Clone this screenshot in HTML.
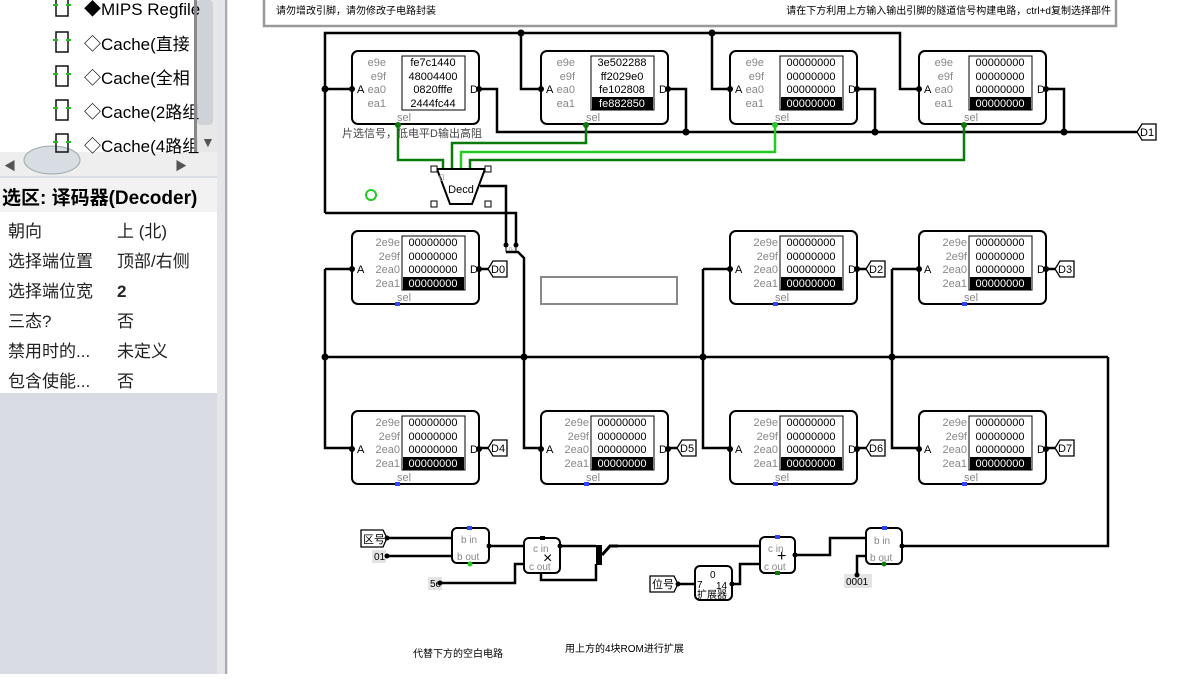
<!DOCTYPE html>
<html><head><meta charset="utf-8"><style>
body{margin:0;width:1204px;height:674px;overflow:hidden;background:#fff;font-family:"Liberation Sans","Noto Sans CJK SC",sans-serif}
svg text{font-family:"Liberation Sans","Noto Sans CJK SC",sans-serif}
</style></head><body>
<svg width="1204" height="674" viewBox="0 0 1204 674" xmlns="http://www.w3.org/2000/svg">
<rect x="0" y="0" width="228" height="674" fill="#d9dde3"/>
<rect x="0" y="0" width="195" height="152" fill="#fff"/>
<rect x="195" y="0" width="22" height="152" fill="#e8e8e8"/>
<rect x="197" y="0" width="16" height="125" fill="#cfd3d8" rx="4"/>
<text x="201" y="147" font-size="14" fill="#555">▼</text>
<rect x="0" y="152" width="217" height="24" fill="#eeeeee"/>
<ellipse cx="52" cy="160" rx="28" ry="14" fill="#d8dde3" stroke="#9aa" />
<text x="4" y="170" font-size="12" fill="#555">◀</text>
<text x="175" y="170" font-size="12" fill="#555">▶</text>
<rect x="217" y="0" width="11" height="674" fill="#e4e6ea"/>
<line x1="226" y1="0" x2="226" y2="674" stroke="#a8acb2" stroke-width="2"/>
<g font-size="17" fill="#000">
<text x="84" y="15">◆MIPS Regfile</text>
<text x="84" y="50">◇Cache(直接</text>
<text x="84" y="84">◇Cache(全相</text>
<text x="84" y="118">◇Cache(2路组</text>
<text x="84" y="152">◇Cache(4路组</text>
</g>
<g fill="none" stroke="#111" stroke-width="1.5">
<rect x="56" y="-4" width="12" height="20"/><rect x="56" y="32" width="12" height="20"/><rect x="56" y="66" width="12" height="20"/><rect x="56" y="100" width="12" height="20"/><rect x="56" y="134" width="12" height="18"/>
</g>
<g stroke="#22bb22" stroke-width="2">
<line x1="53" y1="5" x2="58" y2="5"/><line x1="66" y1="5" x2="71" y2="5"/>
<line x1="53" y1="40" x2="58" y2="40"/><line x1="66" y1="40" x2="71" y2="40"/>
<line x1="53" y1="74" x2="58" y2="74"/><line x1="66" y1="74" x2="71" y2="74"/>
<line x1="53" y1="108" x2="58" y2="108"/><line x1="66" y1="108" x2="71" y2="108"/>
<line x1="53" y1="142" x2="58" y2="142"/><line x1="66" y1="142" x2="71" y2="142"/>
</g>
<rect x="194" y="0" width="3" height="152" fill="#888"/>
<rect x="0" y="178" width="217" height="34" fill="#f2f2f2"/>
<text x="2" y="204" font-size="19" font-weight="bold">选区: 译码器(Decoder)</text>
<rect x="0" y="212" width="217" height="181" fill="#fff"/>
<g font-size="17" fill="#222">
<text x="8" y="237">朝向</text><text x="117" y="237">上 (北)</text>
<text x="8" y="267">选择端位置</text><text x="117" y="267">顶部/右侧</text>
<text x="8" y="297">选择端位宽</text><text x="117" y="297" font-weight="bold">2</text>
<text x="8" y="327">三态?</text><text x="117" y="327">否</text>
<text x="8" y="357">禁用时的...</text><text x="117" y="357">未定义</text>
<text x="8" y="387">包含使能...</text><text x="117" y="387">否</text>
</g>
<rect x="264" y="-2" width="852" height="28" fill="#fff" stroke="#999" stroke-width="2.5"/>
<text x="276" y="14" font-size="10">请勿增改引脚，请勿修改子电路封装</text>
<text x="1111" y="14" font-size="10" text-anchor="end">请在下方利用上方输入输出引脚的隧道信号构建电路，ctrl+d复制选择部件</text>

<g fill="none" stroke="#000" stroke-width="2.5">
<polyline points="325,213 325,33 900,33 900,89 919,89"/>
<line x1="325" y1="89" x2="352" y2="89"/>
<polyline points="521,33 521,89 541,89"/>
<polyline points="712,33 712,89 730,89"/>
<polyline points="479,89 497,89 497,132 1137,132"/>
<polyline points="668,89 686,89 686,132"/>
<polyline points="857,89 875,89 875,132"/>
<polyline points="1046,89 1064,89 1064,132"/>
<polyline points="325,213 516,213 516,245"/>
<polyline points="480,186 506,186 506,245"/>
<polyline points="506,252 518,252 524,258 524,448 541,448"/>
<polyline points="1108,357 325,357"/>
<polyline points="325,269 325,448 352,448"/>
<line x1="325" y1="269" x2="352" y2="269"/>
<polyline points="703,269 703,448 730,448"/>
<line x1="703" y1="269" x2="730" y2="269"/>
<polyline points="892,269 892,448 919,448"/>
<line x1="892" y1="269" x2="919" y2="269"/>
<line x1="479" y1="269" x2="488" y2="269"/><line x1="857" y1="269" x2="866" y2="269"/><line x1="1046" y1="269" x2="1055" y2="269"/>
<line x1="479" y1="448" x2="488" y2="448"/><line x1="668" y1="448" x2="677" y2="448"/><line x1="857" y1="448" x2="866" y2="448"/><line x1="1046" y1="448" x2="1055" y2="448"/>
<polyline points="1108,357 1108,546 902,546"/>
<polyline points="387,538 452,538"/><polyline points="387,556 452,556"/>
<polyline points="489,546 524,546"/>
<polyline points="440,583 515,583 515,564 524,564"/>
<polyline points="560,546 596,546"/><polyline points="541,573 541,580 596,580 596,564"/>
<polyline points="614,546 760,546"/>
<polyline points="678,584 695,584"/><polyline points="732,584 740,584 740,564 760,564"/>
<polyline points="795,555 830,555 830,538 866,538"/>
<polyline points="857,575 857,556 866,556"/>
</g>
<g stroke="#000" stroke-width="1"><line x1="506" y1="245" x2="506" y2="252"/><line x1="516" y1="245" x2="516" y2="252"/></g>
<g fill="#000"><circle cx="506" cy="245" r="2.5"/><circle cx="516" cy="245" r="2.5"/></g>
<text x="509" y="251" font-size="5" fill="#888">0-1</text>
<rect x="596" y="545" width="6" height="20" fill="#000"/>
<polyline points="602,555 610,546 618,546" stroke="#000" stroke-width="3" fill="none"/>
<g fill="#000">
<circle cx="521" cy="33" r="3.5"/><circle cx="712" cy="33" r="3.5"/><circle cx="325" cy="89" r="3.5"/>
<circle cx="686" cy="132" r="3.5"/><circle cx="875" cy="132" r="3.5"/><circle cx="1064" cy="132" r="3.5"/>
<circle cx="325" cy="357" r="3.5"/><circle cx="524" cy="357" r="3.5"/><circle cx="703" cy="357" r="3.5"/><circle cx="892" cy="357" r="3.5"/>
</g>
<g fill="none" stroke-width="2.5">
<polyline points="398,124 398,160 443,160 443,169" stroke="#0a7a0a"/>
<polyline points="452,169 452,143 586,143 586,124" stroke="#0a7a0a"/>
<polyline points="461,169 461,152 775,152 775,124" stroke="#22cc22"/>
<polyline points="470,169 470,160 964,160 964,124" stroke="#0a7a0a"/>
</g>
<circle cx="371" cy="195" r="5" fill="none" stroke="#22cc22" stroke-width="2"/>
<polygon points="437,169 485,169 472,204 450,204" fill="#fff" stroke="#000" stroke-width="2"/>
<g fill="#fff" stroke="#000"><rect x="431" y="166" width="6" height="6"/><rect x="485" y="166" width="6" height="6"/><rect x="431" y="201" width="6" height="6"/><rect x="485" y="201" width="6" height="6"/></g>
<text x="439" y="181" font-size="10" fill="#aaa">0</text>
<text x="461" y="193" font-size="11" text-anchor="middle">Decd</text>
<text x="342" y="137" font-size="11" fill="#444">片选信号，低电平D输出高阻</text>
<rect x="541" y="277" width="136" height="27" fill="none" stroke="#888" stroke-width="2"/>

<g font-size="11">
<g transform="translate(352,51)">
<rect width="127" height="73" rx="6" fill="#fff" stroke="#000" stroke-width="2"/>
<rect x="50" y="5" width="63" height="54" fill="#fff" stroke="#000"/>
<g fill="#888" text-anchor="end"><text x="34" y="15">e9e</text><text x="34" y="29">e9f</text><text x="34" y="42">ea0</text><text x="34" y="56">ea1</text><text x="52" y="70" text-anchor="middle">sel</text></g>
<g text-anchor="middle"><text x="81" y="15">fe7c1440</text><text x="81" y="29">48004400</text><text x="81" y="42">0820fffe</text><text x="81" y="56">2444fc44</text></g>
<text x="5" y="42">A</text><text x="118" y="42">D</text>
<circle cx="0" cy="38" r="3"/><circle cx="127" cy="38" r="3"/><circle cx="46" cy="74" r="3" fill="#0a7a0a"/>
</g>
<g transform="translate(541,51)">
<rect width="127" height="73" rx="6" fill="#fff" stroke="#000" stroke-width="2"/>
<rect x="50" y="5" width="63" height="54" fill="#fff" stroke="#000"/>
<g fill="#888" text-anchor="end"><text x="34" y="15">e9e</text><text x="34" y="29">e9f</text><text x="34" y="42">ea0</text><text x="34" y="56">ea1</text><text x="52" y="70" text-anchor="middle">sel</text></g>
<rect x="51" y="46" width="61" height="13" fill="#000"/>
<g text-anchor="middle"><text x="81" y="15">3e502288</text><text x="81" y="29">ff2029e0</text><text x="81" y="42">fe102808</text><text x="81" y="56" fill="#fff">fe882850</text></g>
<text x="5" y="42">A</text><text x="118" y="42">D</text>
<circle cx="0" cy="38" r="3"/><circle cx="127" cy="38" r="3"/><circle cx="45" cy="74" r="3" fill="#0a7a0a"/>
</g>
<g transform="translate(730,51)">
<rect width="127" height="73" rx="6" fill="#fff" stroke="#000" stroke-width="2"/>
<rect x="50" y="5" width="63" height="54" fill="#fff" stroke="#000"/>
<g fill="#888" text-anchor="end"><text x="34" y="15">e9e</text><text x="34" y="29">e9f</text><text x="34" y="42">ea0</text><text x="34" y="56">ea1</text><text x="52" y="70" text-anchor="middle">sel</text></g>
<rect x="51" y="46" width="61" height="13" fill="#000"/>
<g text-anchor="middle"><text x="81" y="15">00000000</text><text x="81" y="29">00000000</text><text x="81" y="42">00000000</text><text x="81" y="56" fill="#fff">00000000</text></g>
<text x="5" y="42">A</text><text x="118" y="42">D</text>
<circle cx="0" cy="38" r="3"/><circle cx="127" cy="38" r="3"/><circle cx="45" cy="74" r="3" fill="#22cc22"/>
</g>
<g transform="translate(919,51)">
<rect width="127" height="73" rx="6" fill="#fff" stroke="#000" stroke-width="2"/>
<rect x="50" y="5" width="63" height="54" fill="#fff" stroke="#000"/>
<g fill="#888" text-anchor="end"><text x="34" y="15">e9e</text><text x="34" y="29">e9f</text><text x="34" y="42">ea0</text><text x="34" y="56">ea1</text><text x="52" y="70" text-anchor="middle">sel</text></g>
<rect x="51" y="46" width="61" height="13" fill="#000"/>
<g text-anchor="middle"><text x="81" y="15">00000000</text><text x="81" y="29">00000000</text><text x="81" y="42">00000000</text><text x="81" y="56" fill="#fff">00000000</text></g>
<text x="5" y="42">A</text><text x="118" y="42">D</text>
<circle cx="0" cy="38" r="3"/><circle cx="127" cy="38" r="3"/><circle cx="45" cy="74" r="3" fill="#0a7a0a"/>
</g>
<g transform="translate(352,231)">
<rect width="127" height="73" rx="6" fill="#fff" stroke="#000" stroke-width="2"/>
<rect x="50" y="5" width="63" height="54" fill="#fff" stroke="#000"/>
<g fill="#888" text-anchor="end"><text x="48" y="15">2e9e</text><text x="48" y="29">2e9f</text><text x="48" y="42">2ea0</text><text x="48" y="56">2ea1</text><text x="52" y="70" text-anchor="middle">sel</text></g>
<rect x="51" y="46" width="61" height="13" fill="#000"/>
<g text-anchor="middle"><text x="81" y="15">00000000</text><text x="81" y="29">00000000</text><text x="81" y="42">00000000</text><text x="81" y="56" fill="#fff">00000000</text></g>
<text x="5" y="42">A</text><text x="118" y="42">D</text>
<circle cx="0" cy="38" r="3"/><circle cx="127" cy="38" r="3"/><rect x="43" y="71" width="5" height="4" fill="#3344ff"/>
</g>
<g transform="translate(730,231)">
<rect width="127" height="73" rx="6" fill="#fff" stroke="#000" stroke-width="2"/>
<rect x="50" y="5" width="63" height="54" fill="#fff" stroke="#000"/>
<g fill="#888" text-anchor="end"><text x="48" y="15">2e9e</text><text x="48" y="29">2e9f</text><text x="48" y="42">2ea0</text><text x="48" y="56">2ea1</text><text x="52" y="70" text-anchor="middle">sel</text></g>
<rect x="51" y="46" width="61" height="13" fill="#000"/>
<g text-anchor="middle"><text x="81" y="15">00000000</text><text x="81" y="29">00000000</text><text x="81" y="42">00000000</text><text x="81" y="56" fill="#fff">00000000</text></g>
<text x="5" y="42">A</text><text x="118" y="42">D</text>
<circle cx="0" cy="38" r="3"/><circle cx="127" cy="38" r="3"/><rect x="43" y="71" width="5" height="4" fill="#3344ff"/>
</g>
<g transform="translate(919,231)">
<rect width="127" height="73" rx="6" fill="#fff" stroke="#000" stroke-width="2"/>
<rect x="50" y="5" width="63" height="54" fill="#fff" stroke="#000"/>
<g fill="#888" text-anchor="end"><text x="48" y="15">2e9e</text><text x="48" y="29">2e9f</text><text x="48" y="42">2ea0</text><text x="48" y="56">2ea1</text><text x="52" y="70" text-anchor="middle">sel</text></g>
<rect x="51" y="46" width="61" height="13" fill="#000"/>
<g text-anchor="middle"><text x="81" y="15">00000000</text><text x="81" y="29">00000000</text><text x="81" y="42">00000000</text><text x="81" y="56" fill="#fff">00000000</text></g>
<text x="5" y="42">A</text><text x="118" y="42">D</text>
<circle cx="0" cy="38" r="3"/><circle cx="127" cy="38" r="3"/><rect x="43" y="71" width="5" height="4" fill="#3344ff"/>
</g>
<g transform="translate(352,411)">
<rect width="127" height="73" rx="6" fill="#fff" stroke="#000" stroke-width="2"/>
<rect x="50" y="5" width="63" height="54" fill="#fff" stroke="#000"/>
<g fill="#888" text-anchor="end"><text x="48" y="15">2e9e</text><text x="48" y="29">2e9f</text><text x="48" y="42">2ea0</text><text x="48" y="56">2ea1</text><text x="52" y="70" text-anchor="middle">sel</text></g>
<rect x="51" y="46" width="61" height="13" fill="#000"/>
<g text-anchor="middle"><text x="81" y="15">00000000</text><text x="81" y="29">00000000</text><text x="81" y="42">00000000</text><text x="81" y="56" fill="#fff">00000000</text></g>
<text x="5" y="42">A</text><text x="118" y="42">D</text>
<circle cx="0" cy="38" r="3"/><circle cx="127" cy="38" r="3"/><rect x="43" y="71" width="5" height="4" fill="#3344ff"/>
</g>
<g transform="translate(541,411)">
<rect width="127" height="73" rx="6" fill="#fff" stroke="#000" stroke-width="2"/>
<rect x="50" y="5" width="63" height="54" fill="#fff" stroke="#000"/>
<g fill="#888" text-anchor="end"><text x="48" y="15">2e9e</text><text x="48" y="29">2e9f</text><text x="48" y="42">2ea0</text><text x="48" y="56">2ea1</text><text x="52" y="70" text-anchor="middle">sel</text></g>
<rect x="51" y="46" width="61" height="13" fill="#000"/>
<g text-anchor="middle"><text x="81" y="15">00000000</text><text x="81" y="29">00000000</text><text x="81" y="42">00000000</text><text x="81" y="56" fill="#fff">00000000</text></g>
<text x="5" y="42">A</text><text x="118" y="42">D</text>
<circle cx="0" cy="38" r="3"/><circle cx="127" cy="38" r="3"/><rect x="43" y="71" width="5" height="4" fill="#3344ff"/>
</g>
<g transform="translate(730,411)">
<rect width="127" height="73" rx="6" fill="#fff" stroke="#000" stroke-width="2"/>
<rect x="50" y="5" width="63" height="54" fill="#fff" stroke="#000"/>
<g fill="#888" text-anchor="end"><text x="48" y="15">2e9e</text><text x="48" y="29">2e9f</text><text x="48" y="42">2ea0</text><text x="48" y="56">2ea1</text><text x="52" y="70" text-anchor="middle">sel</text></g>
<rect x="51" y="46" width="61" height="13" fill="#000"/>
<g text-anchor="middle"><text x="81" y="15">00000000</text><text x="81" y="29">00000000</text><text x="81" y="42">00000000</text><text x="81" y="56" fill="#fff">00000000</text></g>
<text x="5" y="42">A</text><text x="118" y="42">D</text>
<circle cx="0" cy="38" r="3"/><circle cx="127" cy="38" r="3"/><rect x="43" y="71" width="5" height="4" fill="#3344ff"/>
</g>
<g transform="translate(919,411)">
<rect width="127" height="73" rx="6" fill="#fff" stroke="#000" stroke-width="2"/>
<rect x="50" y="5" width="63" height="54" fill="#fff" stroke="#000"/>
<g fill="#888" text-anchor="end"><text x="48" y="15">2e9e</text><text x="48" y="29">2e9f</text><text x="48" y="42">2ea0</text><text x="48" y="56">2ea1</text><text x="52" y="70" text-anchor="middle">sel</text></g>
<rect x="51" y="46" width="61" height="13" fill="#000"/>
<g text-anchor="middle"><text x="81" y="15">00000000</text><text x="81" y="29">00000000</text><text x="81" y="42">00000000</text><text x="81" y="56" fill="#fff">00000000</text></g>
<text x="5" y="42">A</text><text x="118" y="42">D</text>
<circle cx="0" cy="38" r="3"/><circle cx="127" cy="38" r="3"/><rect x="43" y="71" width="5" height="4" fill="#3344ff"/>
</g>
</g>
<g fill="#fff" stroke="#000" stroke-width="1.3">
<polygon points="488,269 493,261 507,261 507,277 493,277"/>
<polygon points="866,269 871,261 885,261 885,277 871,277"/>
<polygon points="1055,269 1060,261 1074,261 1074,277 1060,277"/>
<polygon points="488,448 493,440 507,440 507,456 493,456"/>
<polygon points="677,448 682,440 696,440 696,456 682,456"/>
<polygon points="866,448 871,440 885,440 885,456 871,456"/>
<polygon points="1055,448 1060,440 1074,440 1074,456 1060,456"/>
<polygon points="1137,132 1142,124 1156,124 1156,140 1142,140"/>
</g>
<g font-size="11">
<text x="491" y="273">D0</text><text x="869" y="273">D2</text><text x="1058" y="273">D3</text>
<text x="491" y="452">D4</text><text x="680" y="452">D5</text><text x="869" y="452">D6</text><text x="1058" y="452">D7</text>
<text x="1140" y="136">D1</text>
</g>
<polygon points="361,530 383,530 387,538 383,547 361,547" fill="#fff" stroke="#000" stroke-width="1.3"/>
<text x="363" y="543" font-size="11">区号</text>
<rect x="372" y="550" width="14" height="13" fill="#e4e4e4"/><text x="374" y="560" font-size="10">01</text>
<rect x="428" y="577" width="14" height="13" fill="#e4e4e4"/><text x="430" y="587" font-size="10">5e</text>
<g fill="#fff" stroke="#000" stroke-width="2">
<rect x="452" y="528" width="37" height="35" rx="5"/>
<rect x="524" y="538" width="36" height="35" rx="5"/>
<rect x="760" y="537" width="35" height="36" rx="5"/>
<rect x="866" y="528" width="36" height="36" rx="5"/>
<rect x="695" y="566" width="37" height="34" rx="5"/>
</g>
<g font-size="10" fill="#888">
<text x="461" y="543">b in</text><text x="457" y="560">b out</text>
<text x="533" y="552">c in</text><text x="529" y="570">c out</text>
<text x="768" y="552">c in</text><text x="764" y="570">c out</text>
<text x="874" y="544">b in</text><text x="870" y="561">b out</text>
</g>
<text x="543" y="563" font-size="16">×</text>
<text x="777" y="561" font-size="16">+</text>
<rect x="467" y="526" width="5" height="4" fill="#3344ff"/><circle cx="470" cy="564" r="2.5" fill="#22cc22"/>
<rect x="540" y="536" width="5" height="4" fill="#000"/>
<rect x="775" y="535" width="5" height="4" fill="#3344ff"/><rect x="775" y="571" width="5" height="4" fill="#0a7a0a"/>
<rect x="882" y="526" width="5" height="4" fill="#3344ff"/><circle cx="884" cy="564" r="2.5" fill="#0a7a0a"/>
<polygon points="650,576 674,576 678,584 674,592 650,592" fill="#fff" stroke="#000" stroke-width="1.3"/>
<text x="652" y="588" font-size="11">位号</text>
<text x="710" y="578" font-size="10">0</text><text x="697" y="588" font-size="10">7</text><text x="716" y="589" font-size="10">14</text>
<text x="697" y="598" font-size="10">扩展器</text>
<rect x="844" y="574" width="28" height="14" fill="#e4e4e4"/><text x="846" y="585" font-size="10">0001</text>
<g fill="#000"><circle cx="387" cy="538" r="2.5"/><circle cx="387" cy="556" r="2.5"/><circle cx="440" cy="583" r="2.5"/><circle cx="857" cy="575" r="2.5"/><circle cx="489" cy="546" r="2.5"/><circle cx="560" cy="546" r="2.5"/><circle cx="795" cy="555" r="2.5"/><circle cx="902" cy="546" r="2.5"/><circle cx="678" cy="584" r="2.5"/><circle cx="732" cy="584" r="2.5"/></g>
<text x="413" y="657" font-size="10">代替下方的空白电路</text>
<text x="565" y="652" font-size="10">用上方的4块ROM进行扩展</text>
</svg>
</body></html>
